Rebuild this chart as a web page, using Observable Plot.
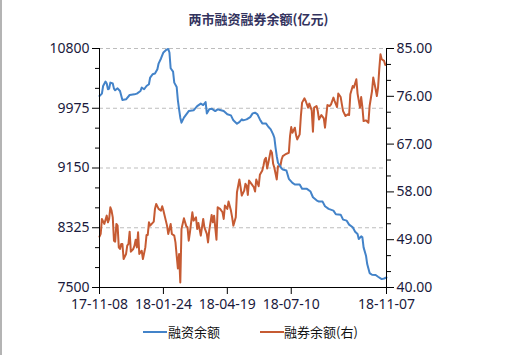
<!DOCTYPE html>
<html><head><meta charset="utf-8">
<script src="https://cdn.jsdelivr.net/npm/d3@7"></script>
<script src="https://cdn.jsdelivr.net/npm/@observablehq/plot@0.6"></script>
<style>
body{margin:0;background:#fff;width:519px;height:355px;position:relative;overflow:hidden;font-family:"Noto Sans","Noto Sans CJK SC",sans-serif;}
#edge{position:absolute;left:0;top:0;width:2px;height:355px;background:#b4b4b4;}
#title{position:absolute;left:0;width:517px;top:11px;text-align:center;font-size:13px;font-weight:bold;color:#33335e;line-height:16px;font-family:"Noto Sans CJK SC",sans-serif;}
#chart{position:absolute;left:0;top:0;}
.ln{position:absolute;top:331px;height:2px;width:24px;}
.lt{position:absolute;top:323px;font-size:13px;line-height:17px;color:#111;font-family:"Noto Sans CJK SC",sans-serif;}
</style></head>
<body>
<div id="edge"></div>
<div id="chart"></div>
<div id="title">两市融资融券余额(亿元)</div>
<div id="legend"></div>
<script>
// categories / ticks
const xTickDays = [0, 53, 106, 159, 238];
const xTickLabels = ["17-11-08", "18-01-24", "18-04-19", "18-07-10", "18-11-07"];
const leftTicks = [7500, 8325, 9150, 9975, 10800];
const leftMinor = [7775, 8050, 8600, 8875, 9425, 9700, 10250, 10525];
const rightTicks = [40, 49, 58, 67, 76, 85];
const rightMinor = [43, 46, 52, 55, 61, 64, 70, 73, 79, 82];
const seriesNames = ["融资余额", "融券余额(右)"];
const seriesColors = ["#4383c9", "#c65b33"];

// 融资余额 (left axis), trading-day index and value
const finDay = [0,2,3,5,6,7,8,9,11,12,13,15,17,19,22,25,29,31,34,35,37,39,41,42,44,46,48,49,51,53,55,57,58,59,61,62,64,65,66,67,68,70,72,74,78,81,84,86,88,89,91,93,96,98,100,103,106,109,111,114,116,118,119,122,125,127,129,131,133,135,138,140,142,144,145,146,147,148,151,152,155,157,160,162,166,168,172,175,177,180,182,185,187,190,194,196,200,202,205,207,210,212,214,215,217,218,219,221,222,224,226,229,231,234,236,238];
const finValue = [10144,10177,10282,10343,10316,10237,10246,10329,10316,10246,10223,10250,10213,10089,10098,10158,10167,10177,10213,10260,10237,10282,10306,10399,10444,10454,10513,10592,10662,10745,10776,10794,10745,10527,10482,10329,10268,10084,9960,9845,9776,9845,9891,9936,9946,10005,10039,10019,10061,9904,9960,9969,9936,9960,9950,9936,9891,9877,9808,9762,9784,9821,9808,9821,9853,9904,9914,9891,9821,9766,9766,9720,9683,9614,9568,9430,9313,9222,9143,9129,9115,9001,8945,8922,8922,8862,8862,8825,8746,8704,8686,8686,8621,8585,8562,8511,8506,8437,8423,8368,8331,8271,8239,8170,8206,8192,8054,7939,7824,7699,7676,7672,7648,7616,7625,7638];

// 融券余额 (right axis)
const secDay = [0,1,2,4,6,7,8,9,10,11,12,13,14,15,16,17,18,19,20,22,23,24,25,26,28,29,30,31,32,33,35,36,38,39,40,41,42,45,46,47,49,51,52,53,55,56,57,58,59,60,62,63,64,65,66,67,68,70,72,73,74,75,77,78,80,81,82,84,86,87,89,90,91,93,94,95,97,98,100,102,103,104,106,107,109,110,111,113,114,116,117,118,120,121,122,123,124,126,128,129,130,132,133,135,136,137,138,139,140,142,143,144,145,147,148,150,151,152,154,157,158,159,160,162,163,164,166,167,168,170,171,173,174,176,177,178,180,181,182,184,186,187,188,189,191,192,194,195,197,198,200,201,202,204,206,207,208,210,211,213,214,216,217,218,219,221,223,224,226,227,229,230,231,232,233,234,236,237];
const secValue = [49.57,50.08,52.91,51.97,53.53,52.27,52.91,55.1,54.48,53.21,48.81,48.63,51.97,51.65,47.55,47.25,48.19,48.19,45.36,46.3,47.87,48.19,50.51,46.74,47.25,47.87,49.0,47.55,50.38,46.3,46.93,45.36,47.55,49.89,49.89,52.27,51.65,52.4,54.8,55.74,54.8,54.48,55.29,54.48,52.59,51.65,50.08,51.02,51.97,50.08,49.76,48.49,45.98,43.59,46.3,40.94,51.02,53.02,51.51,51.33,48.81,50.38,54.16,52.59,53.21,51.02,52.16,49.76,52.91,51.33,50.08,48.49,50.7,53.67,52.27,53.53,49.0,55.1,54.8,54.16,52.91,55.42,54.8,56.18,54.48,53.21,51.65,53.21,57.93,60.33,58.88,57.31,58.25,59.52,59.2,57.44,60.14,59.52,58.88,58.06,60.33,59.06,61.22,62.03,62.97,64.1,64.43,62.41,63.48,65.8,65.37,63.29,62.54,60.33,62.84,62.84,64.1,64.73,65.05,65.37,68.5,70.2,69.14,70.09,68.69,67.88,68.82,72.28,74.81,75.62,75.11,73.86,74.62,73.35,69.33,73.86,74.17,73.22,71.65,72.47,71.84,70.09,72.28,74.35,74.17,74.49,75.75,75.11,73.98,76.51,75.86,74.49,73.22,72.28,72.6,72.47,76.37,77.94,77.64,79.21,76.51,73.86,75.86,73.98,71.33,71.47,71.03,74.17,77.0,79.53,77.32,76.05,77.64,81.09,83.92,82.98,82.66,81.9];

const fin = finDay.map((d, i) => ({day: d, v: finValue[i]}));
const sec = secDay.map((d, i) => ({day: d, v: secValue[i]}));
const r2l = d3.scaleLinear().domain([40, 85]).range([7500, 10800]);

const chart = Plot.plot({
  width: 519, height: 312,
  marginTop: 48, marginBottom: 25, marginLeft: 99, marginRight: 133,
  x: {domain: [0, 238]},
  y: {domain: [7500, 10800]},
  style: {fontFamily: '"Noto Sans", sans-serif', fontSize: "14px", color: "#1a1a3c", background: "transparent", overflow: "visible"},
  marks: [
    Plot.gridY(leftTicks.filter(d => d > 7500), {stroke: "#bdbdbd", strokeOpacity: 1, strokeDasharray: "4,3"}),
    Plot.line(sec, {x: "day", y: d => r2l(d.v), stroke: seriesColors[1], strokeWidth: 2}),
    Plot.line(fin, {x: "day", y: "v", stroke: seriesColors[0], strokeWidth: 2}),
    Plot.ruleX([0, 238], {stroke: "#000"}),
    Plot.ruleY([7500], {stroke: "#000"}),
    Plot.axisY(leftTicks, {anchor: "left", tickSize: 7, tickPadding: 3, tickFormat: d => String(d), label: null, stroke: "#000"}),
    Plot.axisY(leftMinor, {anchor: "left", tickSize: 4, tickFormat: () => "", label: null, stroke: "#000"}),
    Plot.axisY(rightTicks.map(r2l), {anchor: "right", tickSize: 7, tickPadding: 3, tickFormat: d => r2l.invert(d).toFixed(2), label: null, stroke: "#000"}),
    Plot.axisY(rightMinor.map(r2l), {anchor: "right", tickSize: 4, tickFormat: () => "", label: null, stroke: "#000"}),
    Plot.axisX(xTickDays, {anchor: "bottom", tickSize: 7, tickPadding: 5, tickFormat: d => xTickLabels[xTickDays.indexOf(d)], label: null, stroke: "#000"})
  ]
});
document.getElementById("chart").appendChild(chart);

// legend
const legend = document.getElementById("legend");
const legendPos = [[143, 168], [260, 284]];
seriesNames.forEach((name, i) => {
  const l = document.createElement("span");
  l.className = "ln"; l.style.left = legendPos[i][0] + "px"; l.style.background = seriesColors[i];
  const t = document.createElement("span");
  t.className = "lt"; t.style.left = legendPos[i][1] + "px"; t.textContent = name;
  legend.appendChild(l); legend.appendChild(t);
});
</script>
</body></html>
